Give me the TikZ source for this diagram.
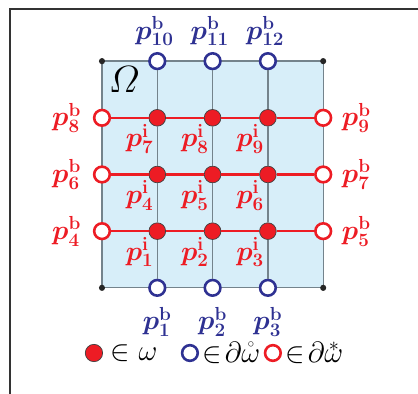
\documentclass[tikz,border=0pt]{standalone}
\usepackage{amsmath,amssymb,bm}
\usetikzlibrary{calc}
\definecolor{ptred}{HTML}{ED1C24}
\definecolor{ptblue}{HTML}{2E3192}
\definecolor{domfill}{HTML}{D7EEF9}
\definecolor{gridgray}{HTML}{74838C}
\newcommand{\ptb}[1]{$\bm{p}^{\mathbf{b}}_{\mathbf{#1}}$}
\newcommand{\pti}[1]{$\bm{p}^{\mathbf{i}}_{\mathbf{#1}}$}
\newcommand{\omstar}{\ooalign{$\omega$\cr\hidewidth\raisebox{0.85ex}{$\scriptstyle\ast$}\hidewidth\cr}}

\begin{document}
\begin{tikzpicture}[x=1.659cm,y=1.70cm,font=\huge,
  inpt/.style={circle,draw=black!75,fill=ptred,line width=0.6pt,minimum size=0.5cm,inner sep=0pt},
  bdblue/.style={circle,draw=ptblue,fill=white,line width=2.2pt,minimum size=0.47cm,inner sep=0pt},
  bdred/.style={circle,draw=ptred,fill=white,line width=2.2pt,minimum size=0.47cm,inner sep=0pt},
  lbl/.style={inner sep=0pt,scale=1.12},
  lgtext/.style={inner sep=0pt,scale=1.2,anchor=west},
  redline/.style={draw=ptred,line width=2.2pt},
  grayline/.style={draw=gridgray,line width=1.1pt}]
  \useasboundingbox (-1.844,-1.870) rectangle (5.714,5.079);
  % frame
  \draw[black!80,line width=1.3pt] (-1.664,-1.9) |- (5.75,4.921);
  % domain
  \draw[grayline,fill=domfill] (0,0) rectangle (4,4);
  \foreach \x/\y in {0/0,4/0,0/4,4/4}{\fill[black!85] (\x,\y) circle (0.055);}
  \node[inner sep=0pt,scale=1.3] (omega) at (0.4,3.68) {\Huge$\varOmega$};
  % interior points
  \foreach \y in {1,2,3}{
    \foreach \x in {1,2,3}{
      \pgfmathtruncatemacro{\k}{3*(\y-1)+\x}
      \node[inpt] (i\k) at (\x,\y) {};
      \node[lbl,ptred] at ($(i\k)+(-0.32,-0.37)$) {\pti{\k}};}}
  % boundary points, bottom and top
  \foreach \x/\n in {1/1,2/2,3/3}{
    \node[bdblue] (b\n) at (\x,0) {};
    \node[lbl,ptblue] at ($(b\n)+(0,-0.6)$) {\ptb{\n}};}
  \foreach \x/\n in {1/10,2/11,3/12}{
    \node[bdblue] (b\n) at (\x,4) {};
    \node[lbl,ptblue] at ($(b\n)+(-0.05,0.53)$) {\ptb{\n}};}
  % boundary points, left and right
  \foreach \y/\l/\r in {1/4/5,2/6/7,3/8/9}{
    \node[bdred] (b\l) at (0,\y) {};
    \node[lbl,ptred] at ($(b\l)+(-0.64,0)$) {\ptb{\l}};
    \node[bdred] (b\r) at (4,\y) {};
    \node[lbl,ptred] at ($(b\r)+(0.6,0)$) {\ptb{\r}};}
  % grid lines
  \draw[grayline] (b1) -- (i1) -- (i4) -- (i7) -- (b10);
  \draw[grayline] (b2) -- (i2) -- (i5) -- (i8) -- (b11);
  \draw[grayline] (b3) -- (i3) -- (i6) -- (i9) -- (b12);
  \draw[redline] (b4) -- (i1) -- (i2) -- (i3) -- (b5);
  \draw[redline] (b6) -- (i4) -- (i5) -- (i6) -- (b7);
  \draw[redline] (b8) -- (i7) -- (i8) -- (i9) -- (b9);
  % legend
  \node[inpt,minimum size=0.52cm] (lgin) at (-0.145,-1.15) {};
  \node[lgtext,xshift=5pt] at (lgin.east) {$\in$ $\omega$};
  \node[bdblue] (lgbl) at (1.59,-1.15) {};
  \node[lgtext,xshift=2pt] at (lgbl.east) {$\in\!\partial\mathring{\omega}$};
  \node[bdred] (lgrd) at (3.09,-1.15) {};
  \node[lgtext,xshift=2pt] at (lgrd.east) {$\in\!\partial$\omstar};
\end{tikzpicture}
\end{document}
